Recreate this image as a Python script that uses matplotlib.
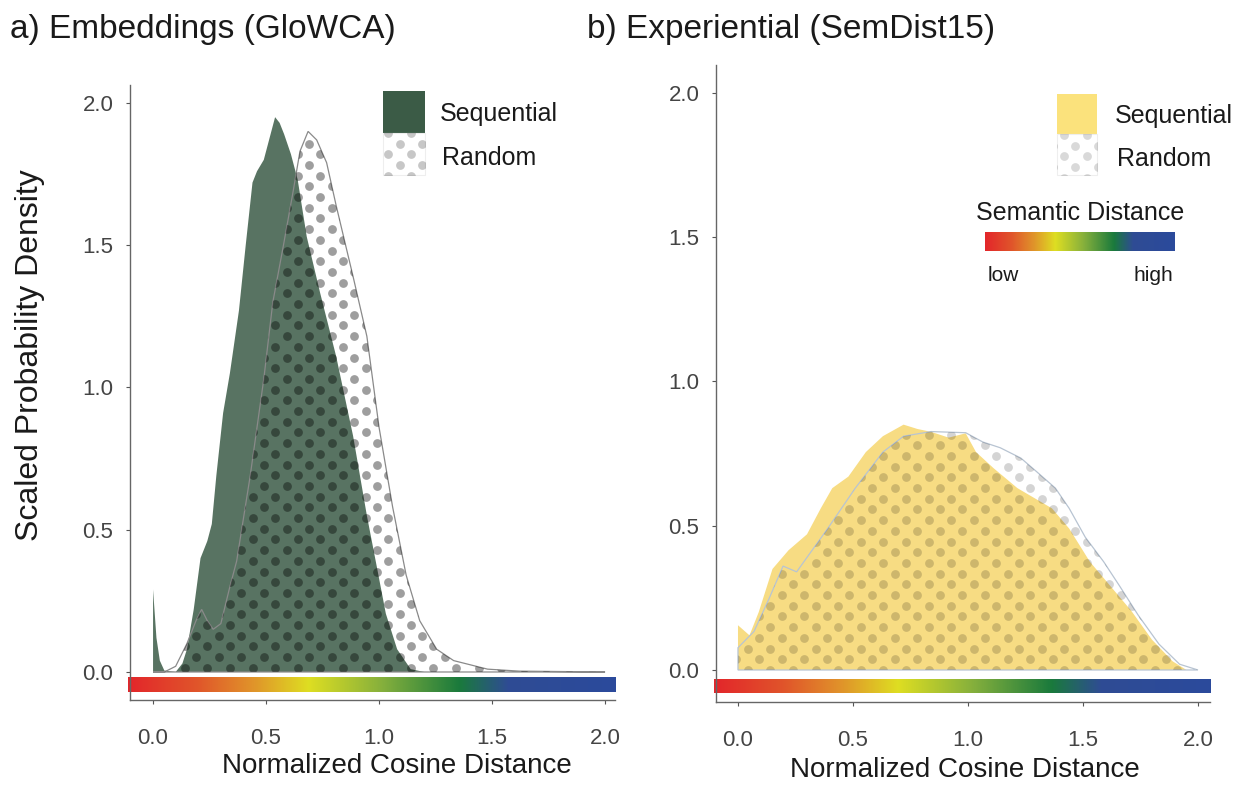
import numpy as np
import matplotlib
matplotlib.use('Agg')
import matplotlib.pyplot as plt
from matplotlib.patches import Polygon, Rectangle
from matplotlib.colors import LinearSegmentedColormap

plt.rcParams['font.family'] = ['Liberation Sans', 'DejaVu Sans']

# a) Embeddings (GloWCA)
a_seq_x = [0.0, 0.0, 0.015, 0.03, 0.05, 0.1, 0.13, 0.15, 0.18, 0.21, 0.24, 0.26, 0.28, 0.31, 0.34, 0.38,
           0.41, 0.44, 0.46, 0.49, 0.52, 0.54, 0.56, 0.58, 0.61, 0.64, 0.68, 0.74, 0.81, 0.885, 0.946,
           0.99, 1.03, 1.08, 1.14, 1.2]
a_seq_y = [0.0, 0.29, 0.12, 0.04, 0.005, 0.0, 0.03, 0.08, 0.22, 0.40, 0.46, 0.52, 0.69, 0.91, 1.05, 1.27,
           1.50, 1.72, 1.76, 1.80, 1.89, 1.95, 1.93, 1.89, 1.82, 1.73, 1.53, 1.33, 1.11, 0.83, 0.55,
           0.37, 0.205, 0.08, 0.01, 0.0]
a_rand_x = [0.0, 0.05, 0.1, 0.15, 0.19, 0.215, 0.24, 0.266, 0.3, 0.34, 0.37, 0.43, 0.49, 0.53, 0.577,
            0.62, 0.65, 0.686, 0.724, 0.768, 0.81, 0.885, 0.946, 1.0, 1.06, 1.12, 1.18, 1.255, 1.33,
            1.48, 1.62, 2.0]
a_rand_y = [0.0, 0.0, 0.02, 0.1, 0.18, 0.22, 0.18, 0.15, 0.17, 0.30, 0.39, 0.69, 1.03, 1.30, 1.50,
            1.69, 1.83, 1.90, 1.87, 1.79, 1.64, 1.39, 1.18, 0.86, 0.58, 0.34, 0.18, 0.08, 0.04,
            0.01, 0.003, 0.0]

# b) Experiential (SemDist15)
b_seq_x = [0.0, 0.0, 0.05, 0.09, 0.15, 0.22, 0.30, 0.36, 0.41, 0.48, 0.556, 0.63, 0.72, 0.78, 0.84,
           0.916, 0.99, 1.035, 1.11, 1.215, 1.365, 1.44, 1.53, 1.62, 1.71, 1.80, 1.89, 1.95]
b_seq_y = [0.0, 0.155, 0.12, 0.20, 0.35, 0.415, 0.47, 0.56, 0.63, 0.67, 0.755, 0.81, 0.85, 0.835, 0.825,
           0.805, 0.82, 0.755, 0.70, 0.63, 0.56, 0.49, 0.375, 0.29, 0.205, 0.105, 0.03, 0.0]
b_rand_x = [0.0, 0.0, 0.07, 0.135, 0.196, 0.255, 0.39, 0.51, 0.63, 0.72, 0.84, 0.99, 1.064, 1.14, 1.23,
            1.30, 1.38, 1.44, 1.51, 1.59, 1.66, 1.74, 1.83, 1.92, 2.0]
b_rand_y = [0.0, 0.077, 0.134, 0.247, 0.36, 0.34, 0.49, 0.63, 0.755, 0.81, 0.826, 0.822, 0.79, 0.77, 0.734,
            0.686, 0.63, 0.56, 0.46, 0.375, 0.29, 0.19, 0.09, 0.02, 0.0]

ticks = [0.0, 0.5, 1.0, 1.5, 2.0]
tick_labels = ['0.0', '0.5', '1.0', '1.5', '2.0']

# semantic distance colour scale
sem_cmap = LinearSegmentedColormap.from_list('sem', [
    (0.0, '#e3262b'), (0.14, '#e0552a'), (0.26, '#e0962a'), (0.37, '#dede22'),
    (0.52, '#86b03c'), (0.68, '#1a7a3c'), (0.78, '#2f4c94'), (1.0, '#2b4a9c')])
grad = np.linspace(0, 1, 256).reshape(1, -1)

fig = plt.figure(figsize=(12.48, 7.85), dpi=100)
ax1 = fig.add_axes([0.1042, 0.1083, 0.3886, 0.7834])
ax2 = fig.add_axes([0.5737, 0.1057, 0.3958, 0.8115])


def dot_grid(ax, clip, alpha, size=40, z=4):
    # staggered dot texture, spacing in pixels
    bb = ax.get_window_extent()
    w, h = bb.width, bb.height
    xs = np.arange(-0.05, 1.1, 22.6 / w)
    ys = np.arange(0, 1.05, 10.7 / h)
    px, py = [], []
    for i, yv in enumerate(ys):
        off = (11.3 / w) if i % 2 else 0
        px.extend(xs + off)
        py.extend([yv] * len(xs))
    sc = ax.scatter(px, py, s=size, color='black', alpha=alpha, linewidths=0,
                    transform=ax.transAxes, zorder=z)
    sc.set_clip_path(clip)


def panel(ax, sx, sy, rx, ry, seq_color, seq_alpha, edge, dot_alpha, xlim, ylim, bar_y):
    seq = Polygon(list(zip(sx, sy)) + [(sx[-1], 0), (sx[0], 0)], closed=True,
                  facecolor=seq_color, alpha=seq_alpha, edgecolor='none', zorder=2)
    ax.add_patch(seq)
    rand = Polygon(list(zip(rx, ry)) + [(rx[-1], 0), (rx[0], 0)], closed=True,
                   facecolor='none', edgecolor=edge, linewidth=0.9, zorder=3)
    ax.add_patch(rand)
    dot_grid(ax, rand, dot_alpha)
    ax.imshow(grad, cmap=sem_cmap, aspect='auto', extent=[xlim[0] - 0.01, xlim[1], bar_y[0], bar_y[1]],
              zorder=2, clip_on=False)
    ax.set_xlim(xlim)
    ax.set_ylim(ylim)
    ax.set_xticks(ticks)
    ax.set_xticklabels(tick_labels)
    ax.set_yticks(ticks)
    ax.set_yticklabels(tick_labels)
    for s in ['top', 'right']:
        ax.spines[s].set_visible(False)
    for s in ['left', 'bottom']:
        ax.spines[s].set_color('#666666')
        ax.spines[s].set_linewidth(1.0)
    ax.tick_params(colors='#555555', labelcolor='#444444', labelsize=16, length=3, width=0.8)
    ax.tick_params(axis='x', pad=17)
    ax.tick_params(axis='y', pad=9)


def legend(ax, x0, w, y_seq, y_rand, h, color, dot_alpha, tx):
    r1 = Rectangle((x0, y_seq), w, h, transform=ax.transAxes, facecolor=color,
                   edgecolor='none', clip_on=False, zorder=5)
    ax.add_patch(r1)
    r2 = Rectangle((x0, y_rand), w, h, transform=ax.transAxes, facecolor='white',
                   edgecolor='#eeeeee', linewidth=0.8, clip_on=False, zorder=5)
    ax.add_patch(r2)
    dot_grid(ax, r2, dot_alpha, z=6)
    ax.text(tx, y_seq + h * 0.45, 'Sequential', transform=ax.transAxes, fontsize=18,
            va='center', ha='left', color='#1a1a1a', clip_on=False)
    ax.text(tx + 0.004, y_rand + h * 0.4, 'Random', transform=ax.transAxes, fontsize=18,
            va='center', ha='left', color='#1a1a1a', clip_on=False)


panel(ax1, a_seq_x, a_seq_y, a_rand_x, a_rand_y, '#3b5b46', 0.85, '#8a8a8a', 0.38,
      (-0.1018, 2.044), (-0.0984, 2.063), (-0.0703, -0.0176))
panel(ax2, b_seq_x, b_seq_y, b_rand_x, b_rand_y, '#f7d978', 0.92, '#b8c4d2', 0.17,
      (-0.0957, 2.052), (-0.111, 2.096), (-0.0797, -0.0346))

legend(ax1, 0.522, 0.0866, 0.922, 0.854, 0.068, '#3b5b46', 0.22, 0.639)
legend(ax2, 0.690, 0.081, 0.891, 0.827, 0.064, '#fbe27c', 0.15, 0.808)

# semantic distance key in panel b
ax2.text(0.737, 0.768, 'Semantic Distance', transform=ax2.transAxes, fontsize=18,
         ha='center', va='center', color='#1a1a1a')
key = fig.add_axes([0.5737 + 0.545 * 0.3958, 0.1057 + 0.708 * 0.8115, 0.384 * 0.3958, 0.030 * 0.8115])
key.imshow(grad, cmap=sem_cmap, aspect='auto')
key.set_axis_off()
ax2.text(0.581, 0.669, 'low', transform=ax2.transAxes, fontsize=15, ha='center', va='center',
         color='#1a1a1a')
ax2.text(0.885, 0.669, 'high', transform=ax2.transAxes, fontsize=15, ha='center', va='center',
         color='#1a1a1a')

fig.text(0.008, 0.962, 'a) Embeddings (GloWCA)', fontsize=24, va='center', ha='left', color='#1a1a1a')
fig.text(0.470, 0.962, 'b) Experiential (SemDist15)', fontsize=24, va='center', ha='left', color='#1a1a1a')
fig.text(0.024, 0.548, 'Scaled Probability Density', fontsize=23, rotation=90, va='center', ha='center',
         color='#1a1a1a')
fig.text(0.318, 0.024, 'Normalized Cosine Distance', fontsize=20, va='center', ha='center', color='#1a1a1a')
fig.text(0.773, 0.019, 'Normalized Cosine Distance', fontsize=20, va='center', ha='center', color='#1a1a1a')

fig.savefig('out.png', dpi=100)
